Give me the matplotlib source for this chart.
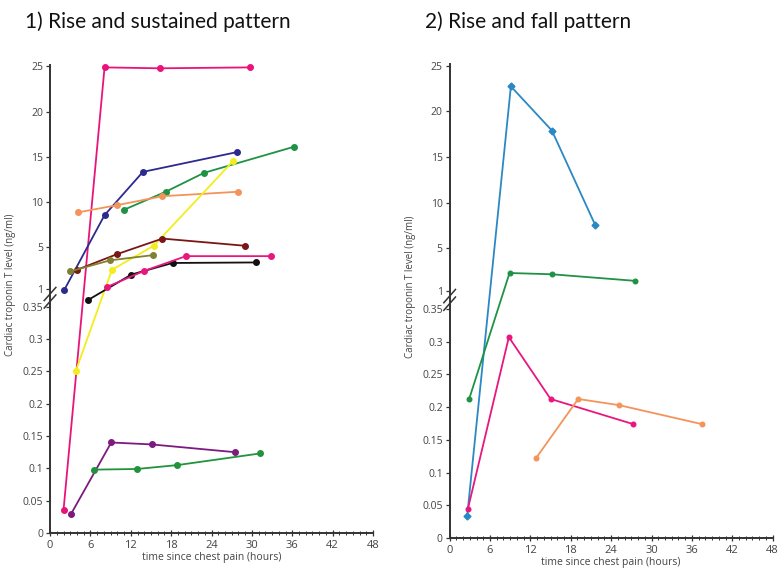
import matplotlib
matplotlib.use("Agg")
import matplotlib.pyplot as plt
import numpy as np

# left panel: rise and sustained pattern
left_series = [
    # (hours, troponin T, colour)
    ([2.0, 8.1, 16.3, 29.7], [0.035, 24.9, 24.8, 24.9], "#e8147c"),
    ([2.1, 8.1, 13.8, 27.8], [0.95, 8.5, 13.3, 15.5], "#2c2a8e"),
    ([11.0, 17.2, 22.9, 36.3], [9.1, 11.1, 13.2, 16.1], "#1f9245"),
    ([4.1, 9.9, 16.7, 28.0], [8.8, 9.6, 10.6, 11.1], "#f3945a"),
    ([3.8, 9.2, 15.4, 27.2], [0.25, 2.8, 5.1, 14.5], "#f2ee1a"),
    ([4.0, 10.0, 16.7, 29.0], [2.8, 4.3, 5.9, 5.1], "#7b1616"),
    ([3.0, 8.9, 15.35], [2.65, 3.7, 4.2], "#7f8132"),
    ([5.7, 12.1, 18.2, 30.6], [0.6, 2.35, 3.45, 3.5], "#111111"),
    ([8.4, 14.0, 20.2, 32.8], [1.15, 2.7, 4.1, 4.1], "#e8177f"),
    ([3.1, 9.1, 15.1, 27.5], [0.029, 0.14, 0.137, 0.125], "#7c1a80"),
    ([6.5, 12.9, 18.9, 31.2], [0.098, 0.099, 0.105, 0.123], "#22933c"),
]

# right panel: rise and fall pattern
right_series = [
    ([2.6, 9.1, 15.2, 21.6], [0.033, 22.75, 17.9, 7.6], "#2a88c4", "D"),
    ([2.9, 8.9, 15.2, 27.6], [0.2125, 2.67, 2.55, 1.93], "#1f9245", "o"),
    ([2.7, 8.8, 15.0, 27.3], [0.044, 0.307, 0.2125, 0.174], "#e8177f", "o"),
    ([12.9, 19.1, 25.2, 37.5], [0.123, 0.2125, 0.203, 0.174], "#f3945a", "o"),
]

y_ticks = [0, 0.05, 0.1, 0.15, 0.2, 0.25, 0.3, 0.35, 1, 5, 10, 15, 20, 25]
y_tick_labels = ["0", "0.05", "0.1", "0.15", "0.2", "0.25", "0.3", "0.35",
                 "1", "5", "10", "15", "20", "25"]
x_ticks = [0, 6, 12, 18, 24, 30, 36, 42, 48]

# broken axis: piecewise linear mapping of the value
knot_v = np.array([0, 0.35, 1, 5, 25, 30])
knot_t = np.array([0, 226, 244, 286, 466, 511], dtype=float)
y_top = 25.2


def fwd(v):
    return np.interp(v, knot_v, knot_t)


def inv(t):
    return np.interp(t, knot_t, knot_v)


title_font = ["Lato", "DejaVu Sans"]
plt.rcParams["font.family"] = ["Open Sans", "DejaVu Sans"]

fig = plt.figure(figsize=(7.82, 5.69), dpi=100)
ax1 = fig.add_axes([0.064, 0.0633, 0.413, 0.823])
ax2 = fig.add_axes([0.575, 0.0545, 0.413, 0.833])

gray = "#444444"


def style(ax):
    ax.set_yscale("function", functions=(fwd, inv))
    ax.set_xlim(0, 48)
    ax.set_ylim(0, y_top)
    for s in ("top", "right"):
        ax.spines[s].set_visible(False)
    for s in ("left", "bottom"):
        ax.spines[s].set_color("#333333")
        ax.spines[s].set_linewidth(1.4)
    ax.set_yticks(y_ticks)
    ax.set_yticklabels(y_tick_labels)
    ax.yaxis.set_minor_locator(matplotlib.ticker.NullLocator())
    ax.set_xticks(x_ticks)
    ax.set_xticks(np.arange(0, 49, 1), minor=True)
    ax.tick_params(axis="both", labelsize=7.5, colors="#333333", labelcolor=gray,
                   length=3, width=0.9, pad=2)
    ax.tick_params(axis="x", which="minor", direction="inout", length=3, width=0.7,
                   colors="#333333")
    ax.tick_params(axis="x", which="major", direction="inout", length=4, labelsize=8, pad=3)
    ax.set_xlabel("time since chest pain (hours)", fontsize=7.5, color=gray, labelpad=1)
    ax.set_ylabel("Cardiac troponin T level (ng/ml)", fontsize=7, color=gray)
    ax.yaxis.set_label_coords(-0.105, 0.53)
    # break marks on the y axis, between 0.35 and 1
    yb = (fwd(0.35) + fwd(1)) / 2 / fwd(y_top)
    for dy in (-0.008, 0.008):
        ax.plot([-0.018, 0.018], [yb + dy - 0.014, yb + dy + 0.014], color="#333333",
                lw=1.1, transform=ax.transAxes, clip_on=False)


style(ax1)
style(ax2)

for xs, ys, c in left_series:
    ax1.plot(xs, ys, color=c, lw=1.3, marker="o", ms=4, clip_on=False)

for xs, ys, c, m in right_series:
    ms = 3.5 if m == "D" else 3.3
    ax2.plot(xs, ys, color=c, lw=1.3, marker=m, ms=ms, clip_on=False)

fig.text(0.032, 0.962, "1) Rise and sustained pattern", fontsize=15, family=title_font,
         va="center", ha="left", color="#111111")
fig.text(0.543, 0.962, "2) Rise and fall pattern", fontsize=15, family=title_font,
         va="center", ha="left", color="#111111")

fig.savefig("out.png", dpi=100)
